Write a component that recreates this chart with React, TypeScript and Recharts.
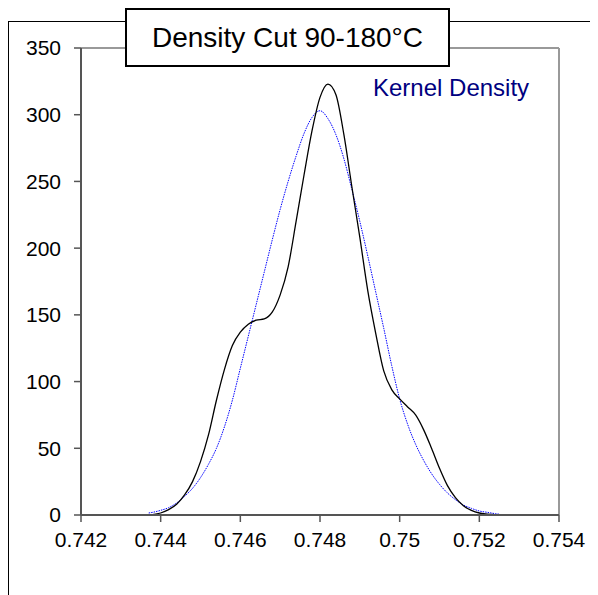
import React from 'react';
import { LineChart, Line, XAxis, YAxis, ReferenceLine } from 'recharts';

// x positions (specific gravity) and density values
const cutX = [
  0.7437, 0.744, 0.7442, 0.7444, 0.7446, 0.7448, 0.745, 0.7452, 0.7454, 0.7456,
  0.7458, 0.746, 0.7462, 0.7464, 0.7466, 0.7468, 0.747, 0.7472, 0.7474, 0.7476,
  0.7478, 0.748, 0.7482, 0.7484, 0.7486, 0.7488, 0.749, 0.7492, 0.7494, 0.7496,
  0.7498, 0.75, 0.7502, 0.7504, 0.7506, 0.7508, 0.751, 0.7512, 0.7514, 0.7516,
  0.7518, 0.752, 0.7522, 0.7524,
];
const cutDensity = [
  0, 1.5, 4, 8, 15, 25, 40, 60, 86, 109,
  127, 137, 143, 146, 147, 152, 165, 186, 220, 255,
  288, 313, 323, 315, 285, 246, 208, 168, 136, 108,
  94, 87, 81, 75, 64, 50, 35, 22, 13, 7,
  3.5, 1.5, 0.7, 0.2,
];

const kernelX = [
  0.7437, 0.7438, 0.744, 0.7442, 0.7444, 0.7446, 0.7448, 0.745, 0.7452, 0.7454,
  0.7456, 0.7458, 0.746, 0.7462, 0.7464, 0.7466, 0.7468, 0.747, 0.7472, 0.7474,
  0.7476, 0.7478, 0.748, 0.7482, 0.7484, 0.7486, 0.7488, 0.749, 0.7492, 0.7494,
  0.7496, 0.7498, 0.75, 0.7502, 0.7504, 0.7506, 0.7508, 0.751, 0.7512, 0.7514,
  0.7516, 0.7518, 0.752, 0.7522, 0.7524, 0.7525,
];
const kernelDensity = [
  1.5, 2, 3.5, 5.5, 9, 14, 20, 28, 38, 50,
  66, 86, 110, 134, 158, 182, 206, 229, 250, 269,
  286, 298, 303, 297, 285, 267, 244, 220, 194, 167,
  140, 112, 87, 68, 53, 41, 31, 23, 16.5, 11.5,
  7.5, 5, 3, 2, 1, 0.6,
];

const xTicks = [0.742, 0.744, 0.746, 0.748, 0.75, 0.752, 0.754];
const yTicks = [0, 50, 100, 150, 200, 250, 300, 350];

const title = 'Density Cut 90-180°C';
const kernelLabel = 'Kernel Density';

const cutData = cutX.map((x, i) => ({ x, y: cutDensity[i] }));
const kernelData = kernelX.map((x, i) => ({ x, y: kernelDensity[i] }));

const font = '"Liberation Sans", Arial, sans-serif';

export default function App() {
  return (
    <div style={{ position: 'relative', width: 590, height: 587, fontFamily: font }}>
      {/* outer frame, only left and top edges show */}
      <div
        style={{
          position: 'absolute', left: 0, top: 13, width: 600, height: 600,
          borderLeft: '1px solid #000', borderTop: '1px solid #000',
        }}
      />
      <div style={{ position: 'absolute', left: 0, top: 0 }}>
        <LineChart
          width={590}
          height={587}
          margin={{ top: 40, right: 39, bottom: 50, left: 0 }}
        >
          <XAxis
            dataKey="x"
            type="number"
            domain={[0.742, 0.754]}
            ticks={xTicks}
            allowDataOverflow
            height={30}
            tickSize={7}
            tickMargin={10}
            axisLine={{ stroke: '#555', strokeWidth: 2 }}
            tickLine={{ stroke: '#555', strokeWidth: 1.5 }}
            tick={{ fill: '#000', fontSize: 21, fontFamily: font }}
          />
          <YAxis
            type="number"
            domain={[0, 350]}
            ticks={yTicks}
            width={73}
            tickSize={7}
            tickMargin={13}
            axisLine={{ stroke: '#555', strokeWidth: 2 }}
            tickLine={{ stroke: '#555', strokeWidth: 1.5 }}
            tick={{ fill: '#000', fontSize: 21, fontFamily: font }}
          />
          <ReferenceLine y={350} stroke="#999" strokeWidth={2} />
          <ReferenceLine x={0.754} stroke="#999" strokeWidth={2} />
          <Line
            data={kernelData}
            dataKey="y"
            type="monotone"
            stroke="#0000ff"
            strokeWidth={1}
            strokeDasharray="1.5 1"
            dot={false}
            isAnimationActive={false}
          />
          <Line
            data={cutData}
            dataKey="y"
            type="monotone"
            stroke="#000"
            strokeWidth={1.3}
            dot={false}
            isAnimationActive={false}
          />
        </LineChart>
      </div>
      <div
        style={{
          position: 'absolute', left: 117, top: 0, width: 321, height: 55,
          border: '2px solid #000', background: '#fff',
          display: 'flex', alignItems: 'center', justifyContent: 'center',
          fontSize: 28, color: '#000', whiteSpace: 'nowrap',
        }}
      >
        {title}
      </div>
      <div
        style={{
          position: 'absolute', left: 365, top: 66, fontSize: 24,
          color: '#000080', whiteSpace: 'nowrap',
        }}
      >
        {kernelLabel}
      </div>
    </div>
  );
}
